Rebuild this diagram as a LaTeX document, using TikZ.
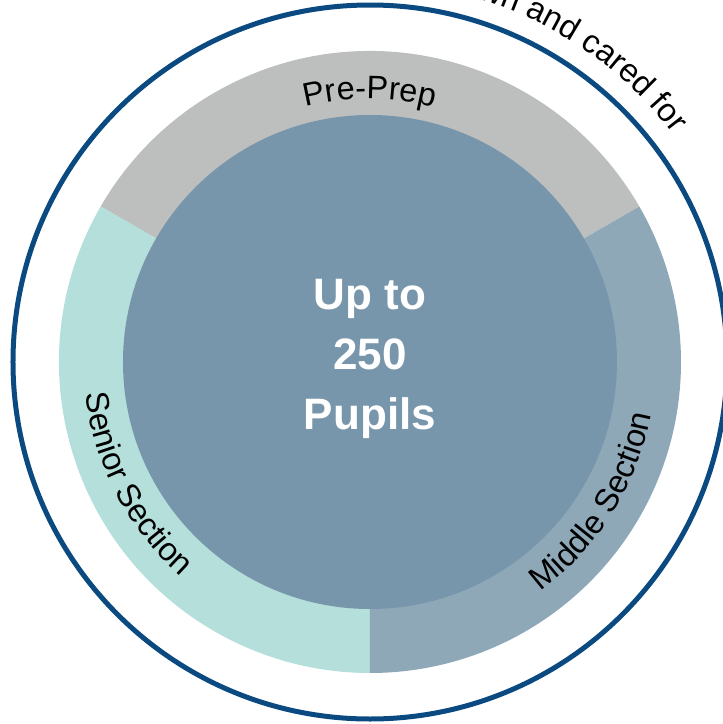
\documentclass[tikz,border=0pt]{standalone}
\usepackage{fontspec}
\setmainfont{Liberation Sans}
\usetikzlibrary{decorations.text}

\definecolor{ringnavy}{RGB}{10,74,128}
\definecolor{prepgrey}{RGB}{189,191,191}
\definecolor{seniorteal}{RGB}{180,223,219}
\definecolor{middleblue}{RGB}{143,168,184}
\definecolor{pupilblue}{RGB}{120,150,171}
\newcommand{\ringfont}{\fontsize{32.5}{39}\selectfont}

\begin{document}
\begin{tikzpicture}[x=1pt, y=1pt,
    ringtext/.style={decorate, decoration={text along path, text align=#1, text format delimiters={|}{|}}}]
        \useasboundingbox (-370,-362) rectangle (353,362);
        \clip (-370,-362) rectangle (353,362);

        % the three sections
        \fill[prepgrey] (0,0) -- (30:311) arc[start angle=30, end angle=150, radius=311pt] -- cycle;
        \fill[seniorteal] (0,0) -- (150:311) arc[start angle=150, end angle=270, radius=311pt] -- cycle;
        \fill[middleblue] (0,0) -- (270:311) arc[start angle=270, end angle=390, radius=311pt] -- cycle;

        \fill[pupilblue] (0,0) circle[radius=247pt];
        \draw[ringnavy, line width=5pt] (0,0) circle[radius=357pt];

        \node[text=white, font=\bfseries\fontsize{44}{60}\selectfont, align=center] (pupils) at (0,3) {Up to\\250\\Pupils};

        \path[ringtext=center, decoration={text={|\ringfont|Pre-Prep}}] (130:263) arc[start angle=130, end angle=50, radius=263pt];
        \path[ringtext=center, decoration={text={|\ringfont|Senior Section}}] (170:286) arc[start angle=170, end angle=245, radius=286pt];
        \path[ringtext=center, decoration={text={|\ringfont|Middle Section}}] (290:286) arc[start angle=290, end angle=366, radius=286pt];
        % outer caption, running off the top of the page
        \path[ringtext=right, decoration={text={|\ringfont|known and cared for}}] (120:379) arc[start angle=120, end angle=37, radius=379pt];
    \end{tikzpicture}
\end{document}
